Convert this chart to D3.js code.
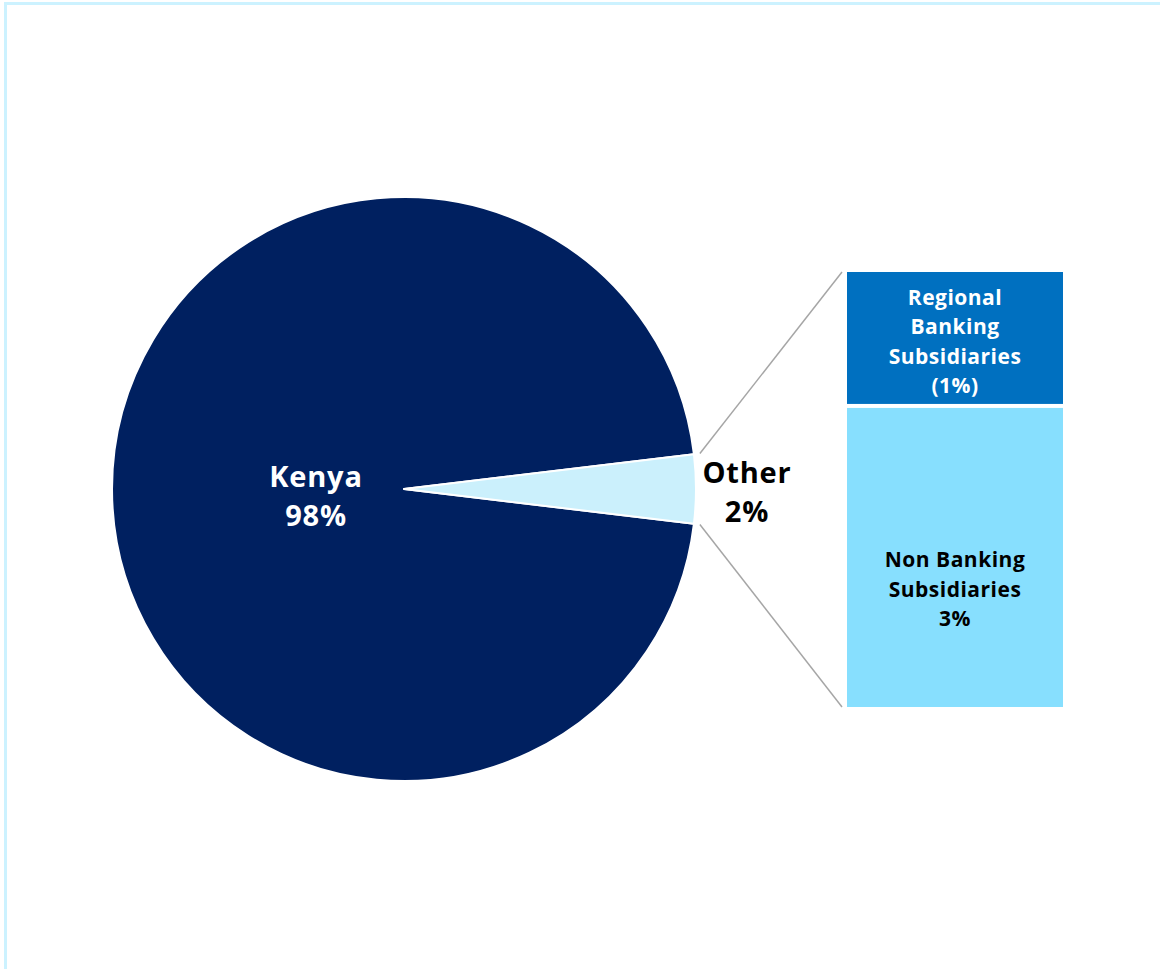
<!DOCTYPE html>
<html>
<head>
	<script src="https://cdn.jsdelivr.net/npm/d3@7"></script>
	<style>
		body { margin: 0; background: #fff; }
		text { font-family: "Open Sans", sans-serif; font-weight: 700; }
	</style>
</head>
<body>
	<div id="chart"></div>

	<script>
		// pie: Kenya vs Other (slice sizes, label text as printed)
		var pieNames = ["Kenya", "Other"];
		var pieValues = [96.2, 3.8];
		var pieText = ["98%", "2%"];
		var pieColors = ["#002060", "#cbf0fc"];

		// bar of pie: breakdown of "Other", top to bottom
		var barNames = [["Regional", "Banking", "Subsidiaries", "(1%)"], ["Non Banking", "Subsidiaries", "3%"]];
		var barValues = [1.17, 2.63];
		var barColors = ["#0070c0", "#87dffe"];
		var barTextColors = ["#ffffff", "#000000"];

		var width = 1160, height = 969;
		var cx = 404, cy = 489, radius = 292;

		var svg = d3.select("#chart").append("svg")
			.attr("width", width)
			.attr("height", height);

		// frame
		svg.append("path")
			.attr("d", "M5.5," + height + "V3.5H" + width)
			.attr("fill", "none")
			.attr("stroke", "#ccf2ff")
			.attr("stroke-width", 3);

		// Other slice centred on 3 o'clock
		var otherAngle = 2 * Math.PI * pieValues[1] / d3.sum(pieValues);
		var start = Math.PI / 2 + otherAngle / 2;

		var pie = d3.pie()
			.sort(null)
			.startAngle(start)
			.endAngle(start + 2 * Math.PI);

		var arc = d3.arc().innerRadius(0).outerRadius(radius);
		var arcs = pie(pieValues);

		var g = svg.append("g").attr("transform", "translate(" + cx + "," + cy + ")");

		g.selectAll("path.slice")
			.data(arcs)
			.enter().append("path")
			.attr("class", "slice")
			.attr("d", arc)
			.attr("fill", function(d, i) { return pieColors[i]; })
			.attr("stroke", "#fff")
			.attr("stroke-width", 2)
			.attr("stroke-linejoin", "round");

		// bar (stacked top -> bottom)
		var barX = 847, barW = 216;
		var y = d3.scaleLinear()
			.domain([0, d3.sum(barValues)])
			.range([272, 707]);

		var cum = 0;
		var bars = barValues.map(function(v, i) {
			var b = { i: i, y0: y(cum), y1: y(cum + v) };
			cum += v;
			return b;
		});

		svg.selectAll("rect.bar")
			.data(bars)
			.enter().append("rect")
			.attr("class", "bar")
			.attr("x", barX)
			.attr("width", barW)
			.attr("y", function(d) { return d.y0 + (d.i > 0 ? 2 : 0); })
			.attr("height", function(d) { return d.y1 - d.y0 - 2; })
			.attr("fill", function(d) { return barColors[d.i]; });

		// connector lines: upper slice corner -> bar top, lower corner -> bar bottom
		function radialPoint(a, r) {
			return [cx + r * Math.sin(a), cy - r * Math.cos(a)];
		}
		var upper = radialPoint(arcs[1].startAngle, radius + 6);
		var lower = radialPoint(arcs[1].endAngle, radius + 6);
		if (upper[1] > lower[1]) { var t = upper; upper = lower; lower = t; }
		var conn = [[upper, [barX - 5, y(0)]], [lower, [barX - 5, y(d3.sum(barValues))]]];
		svg.selectAll("line.conn")
			.data(conn)
			.enter().append("line")
			.attr("class", "conn")
			.attr("x1", function(d) { return d[0][0]; })
			.attr("y1", function(d) { return d[0][1]; })
			.attr("x2", function(d) { return d[1][0]; })
			.attr("y2", function(d) { return d[1][1]; })
			.attr("stroke", "#a6a6a6")
			.attr("stroke-width", 1.5);

		// pie labels
		function twoLine(x, yy, color, lines) {
			svg.append("text")
				.attr("text-anchor", "middle")
				.attr("fill", color)
				.style("font-size", "29px")
				.style("letter-spacing", "0.8px")
				.selectAll("tspan")
				.data(lines)
				.enter().append("tspan")
				.attr("x", x)
				.attr("y", function(d, i) { return yy + i * 39; })
				.text(function(d) { return d; });
		}
		twoLine(316, 487, "#fff", [pieNames[0], pieText[0]]);
		twoLine(747, 483, "#000", [pieNames[1], pieText[1]]);

		// bar labels
		var lineH = 29.5;
		svg.selectAll("text.barlab")
			.data(bars)
			.enter().append("text")
			.attr("class", "barlab")
			.attr("text-anchor", "middle")
			.attr("fill", function(d) { return barTextColors[d.i]; })
			.style("font-size", "21px")
			.style("letter-spacing", "0.5px")
			.each(function(d) {
				var lines = barNames[d.i];
				var mid = (d.y0 + d.y1) / 2 + (d.i > 0 ? 33.5 : 3);
				var first = mid - (lines.length - 1) * lineH / 2 + 7;
				d3.select(this).selectAll("tspan")
					.data(lines)
					.enter().append("tspan")
					.attr("x", barX + barW / 2)
					.attr("y", function(t, k) { return first + k * lineH; })
					.text(function(t) { return t; });
			});
	</script>
</body>
</html>
